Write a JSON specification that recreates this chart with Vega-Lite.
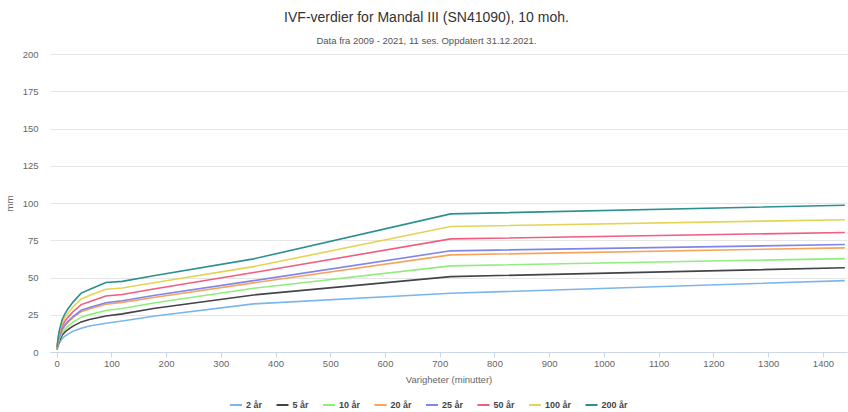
{
  "$schema": "https://vega.github.io/schema/vega-lite/v6.json",
  "autosize": "none",
  "width": 797,
  "height": 298,
  "padding": {"left": 50, "top": 54, "right": 1, "bottom": 60},
  "background": "white",
  "title": {
    "text": "IVF-verdier for Mandal III (SN41090), 10 moh.",
    "subtitle": "Data fra 2009 - 2021, 11 ses. Oppdatert 31.12.2021.",
    "anchor": "middle",
    "dx": -22,
    "font": "Liberation Sans",
    "fontSize": 14,
    "fontWeight": "normal",
    "color": "#333333",
    "subtitleFont": "Liberation Sans",
    "subtitleFontSize": 9.5,
    "subtitleColor": "#555555",
    "subtitlePadding": 11,
    "offset": 4
  },
  "data": {"values": [
    {"d":1,"p":"2 år","v":1.4},{"d":2,"p":"2 år","v":2.9},{"d":3,"p":"2 år","v":4.1},{"d":5,"p":"2 år","v":6.0},{"d":10,"p":"2 år","v":8.9},{"d":15,"p":"2 år","v":10.6},{"d":20,"p":"2 år","v":11.8},{"d":30,"p":"2 år","v":13.9},{"d":45,"p":"2 år","v":16.0},{"d":60,"p":"2 år","v":17.4},{"d":90,"p":"2 år","v":19.3},{"d":120,"p":"2 år","v":20.8},{"d":180,"p":"2 år","v":24.2},{"d":360,"p":"2 år","v":32.3},{"d":720,"p":"2 år","v":39.4},{"d":1440,"p":"2 år","v":47.9},
    {"d":1,"p":"5 år","v":1.8},{"d":2,"p":"5 år","v":3.6},{"d":3,"p":"5 år","v":5.2},{"d":5,"p":"5 år","v":7.5},{"d":10,"p":"5 år","v":11.2},{"d":15,"p":"5 år","v":13.3},{"d":20,"p":"5 år","v":14.8},{"d":30,"p":"5 år","v":17.4},{"d":45,"p":"5 år","v":20.2},{"d":60,"p":"5 år","v":21.8},{"d":90,"p":"5 år","v":24.2},{"d":120,"p":"5 år","v":25.6},{"d":180,"p":"5 år","v":29.4},{"d":360,"p":"5 år","v":38.3},{"d":720,"p":"5 år","v":50.6},{"d":1440,"p":"5 år","v":56.5},
    {"d":1,"p":"10 år","v":2.1},{"d":2,"p":"10 år","v":4.2},{"d":3,"p":"10 år","v":6.0},{"d":5,"p":"10 år","v":8.7},{"d":10,"p":"10 år","v":12.8},{"d":15,"p":"10 år","v":15.2},{"d":20,"p":"10 år","v":17.0},{"d":30,"p":"10 år","v":20.0},{"d":45,"p":"10 år","v":23.4},{"d":60,"p":"10 år","v":25.1},{"d":90,"p":"10 år","v":27.8},{"d":120,"p":"10 år","v":29.2},{"d":180,"p":"10 år","v":33.1},{"d":360,"p":"10 år","v":42.8},{"d":720,"p":"10 år","v":57.8},{"d":1440,"p":"10 år","v":62.7},
    {"d":1,"p":"20 år","v":2.4},{"d":2,"p":"20 år","v":4.8},{"d":3,"p":"20 år","v":6.9},{"d":5,"p":"20 år","v":10.0},{"d":10,"p":"20 år","v":14.8},{"d":15,"p":"20 år","v":17.5},{"d":20,"p":"20 år","v":19.6},{"d":30,"p":"20 år","v":23.0},{"d":45,"p":"20 år","v":27.1},{"d":60,"p":"20 år","v":28.9},{"d":90,"p":"20 år","v":32.0},{"d":120,"p":"20 år","v":33.3},{"d":180,"p":"20 år","v":36.8},{"d":360,"p":"20 år","v":46.4},{"d":720,"p":"20 år","v":65.2},{"d":1440,"p":"20 år","v":69.9},
    {"d":1,"p":"25 år","v":2.5},{"d":2,"p":"25 år","v":5.0},{"d":3,"p":"25 år","v":7.1},{"d":5,"p":"25 år","v":10.3},{"d":10,"p":"25 år","v":15.3},{"d":15,"p":"25 år","v":18.1},{"d":20,"p":"25 år","v":20.2},{"d":30,"p":"25 år","v":23.8},{"d":45,"p":"25 år","v":28.0},{"d":60,"p":"25 år","v":29.8},{"d":90,"p":"25 år","v":33.1},{"d":120,"p":"25 år","v":34.4},{"d":180,"p":"25 år","v":38.1},{"d":360,"p":"25 år","v":47.9},{"d":720,"p":"25 år","v":67.9},{"d":1440,"p":"25 år","v":72.1},
    {"d":1,"p":"50 år","v":2.8},{"d":2,"p":"50 år","v":5.6},{"d":3,"p":"50 år","v":8.1},{"d":5,"p":"50 år","v":11.7},{"d":10,"p":"50 år","v":17.3},{"d":15,"p":"50 år","v":20.5},{"d":20,"p":"50 år","v":22.9},{"d":30,"p":"50 år","v":27.0},{"d":45,"p":"50 år","v":31.8},{"d":60,"p":"50 år","v":33.8},{"d":90,"p":"50 år","v":37.6},{"d":120,"p":"50 år","v":38.6},{"d":180,"p":"50 år","v":42.5},{"d":360,"p":"50 år","v":53.3},{"d":720,"p":"50 år","v":75.9},{"d":1440,"p":"50 år","v":80.2},
    {"d":1,"p":"100 år","v":3.2},{"d":2,"p":"100 år","v":6.3},{"d":3,"p":"100 år","v":9.0},{"d":5,"p":"100 år","v":13.1},{"d":10,"p":"100 år","v":19.4},{"d":15,"p":"100 år","v":23.0},{"d":20,"p":"100 år","v":25.7},{"d":30,"p":"100 år","v":30.2},{"d":45,"p":"100 år","v":35.6},{"d":60,"p":"100 år","v":37.9},{"d":90,"p":"100 år","v":42.1},{"d":120,"p":"100 år","v":43.0},{"d":180,"p":"100 år","v":46.6},{"d":360,"p":"100 år","v":57.3},{"d":720,"p":"100 år","v":84.2},{"d":1440,"p":"100 år","v":88.8},
    {"d":1,"p":"200 år","v":3.5},{"d":2,"p":"200 år","v":7.0},{"d":3,"p":"200 år","v":10.0},{"d":5,"p":"200 år","v":14.5},{"d":10,"p":"200 år","v":21.5},{"d":15,"p":"200 år","v":25.5},{"d":20,"p":"200 år","v":28.5},{"d":30,"p":"200 år","v":33.5},{"d":45,"p":"200 år","v":39.5},{"d":60,"p":"200 år","v":42.0},{"d":90,"p":"200 år","v":46.6},{"d":120,"p":"200 år","v":47.4},{"d":180,"p":"200 år","v":51.3},{"d":360,"p":"200 år","v":62.5},{"d":720,"p":"200 år","v":92.7},{"d":1440,"p":"200 år","v":98.5}
  ]},
  "mark": {"type": "line", "strokeWidth": 1.6, "clip": true},
  "encoding": {
    "x": {
      "field": "d", "type": "quantitative",
      "scale": {"domain": [-12, 1444], "nice": false, "zero": false},
      "axis": {
        "title": "Varigheter (minutter)",
        "values": [0,100,200,300,400,500,600,700,800,900,1000,1100,1200,1300,1400],
        "format": "d",
        "grid": false,
        "domainColor": "#ccd6eb",
        "tickColor": "#ccd6eb",
        "tickSize": 5,
        "labelPadding": 1,
        "labelFont": "Liberation Sans",
        "labelFontSize": 9.5,
        "labelColor": "#666666",
        "titleFont": "Liberation Sans",
        "titleFontSize": 9.5,
        "titleFontWeight": "normal",
        "titleColor": "#666666",
        "titlePadding": 7
      }
    },
    "y": {
      "field": "v", "type": "quantitative",
      "scale": {"domain": [0, 200], "nice": false},
      "axis": {
        "title": "mm",
        "values": [0,25,50,75,100,125,150,175,200],
        "domain": false,
        "ticks": false,
        "gridColor": "#e6e6e6",
        "labelPadding": 12,
        "labelFont": "Liberation Sans",
        "labelFontSize": 9.5,
        "labelColor": "#666666",
        "titleFont": "Liberation Sans",
        "titleFontSize": 9.5,
        "titleFontWeight": "normal",
        "titleColor": "#666666",
        "titlePadding": 8
      }
    },
    "color": {
      "field": "p", "type": "nominal",
      "sort": ["2 år","5 år","10 år","20 år","25 år","50 år","100 år","200 år"],
      "scale": {
        "domain": ["2 år","5 år","10 år","20 år","25 år","50 år","100 år","200 år"],
        "range": ["#7cb5ec","#434348","#90ed7d","#f7a35c","#8085e9","#f15c80","#e4d354","#2b908f"]
      },
      "legend": {
        "title": null,
        "orient": "none",
        "direction": "horizontal",
        "legendX": 179,
        "legendY": 344,
        "symbolType": "stroke",
        "symbolStrokeWidth": 2,
        "symbolSize": 144,
        "labelFont": "Liberation Sans",
        "labelFontSize": 9,
        "labelFontWeight": "bold",
        "labelColor": "#444444",
        "labelOffset": 3,
        "columnPadding": 9.5
      }
    }
  },
  "config": {"view": {"stroke": null}}
}
